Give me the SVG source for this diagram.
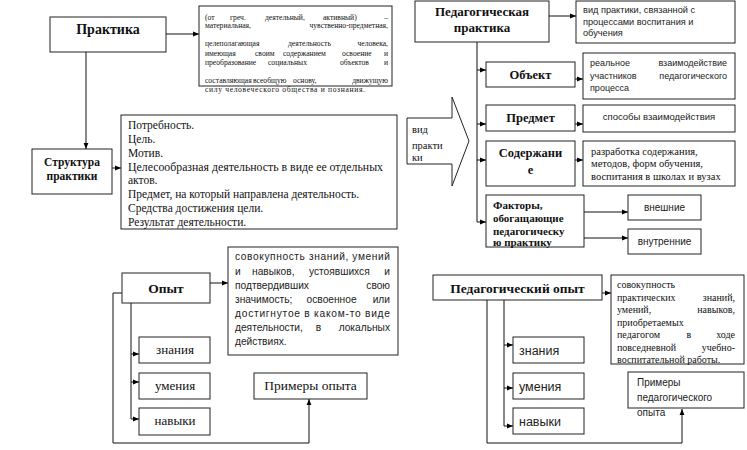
<svg xmlns="http://www.w3.org/2000/svg" width="747" height="450" viewBox="0 0 747 450">
<defs>
<marker id="ah" viewBox="0 0 10 10" refX="10" refY="5" markerWidth="6" markerHeight="6" orient="auto" markerUnits="userSpaceOnUse"><path d="M0,1 L10,5 L0,9 z" fill="#000"/></marker>
<style>
rect{fill:#fff;stroke:#222;stroke-width:1}
.c path{fill:none;stroke:#111;stroke-width:1}
.a{marker-end:url(#ah)}
.t{fill:#111}
.tb{font-weight:bold;fill:#111;text-anchor:middle}
.s{fill:#222}
.m{text-anchor:middle}
.e{text-anchor:end}
.mid{text-anchor:middle}
</style>
</defs>
<rect x="0" y="0" width="747" height="450" style="fill:#fff;stroke:none"/>

<g class="c">
<path class="a" d="M166,34 H199"/>
<path class="a" d="M86,52 V149"/>
<path class="a" d="M112,168 H121"/>
<path class="a" d="M210,283 H228"/>
<path d="M131,303 V419"/>
<path class="a" d="M131,354 H139"/>
<path class="a" d="M131,382 H139"/>
<path class="a" d="M131,419 H139"/>
<path class="a" d="M122,293 H113 V443 H309 V399"/>
<path class="a" d="M549,16 H576"/>
<path d="M477,42 V222"/>
<path class="a" d="M477,70 H486"/>
<path class="a" d="M477,124 H486"/>
<path class="a" d="M477,160 H486"/>
<path class="a" d="M477,222 H486"/>
<path class="a" d="M575,79 H583"/>
<path class="a" d="M575,124 H583"/>
<path class="a" d="M575,160 H583"/>
<path class="a" d="M584,212 H628"/>
<path class="a" d="M584,238 H628"/>
<path class="a" d="M602,293 H611"/>
<path class="a" d="M487,300 V443 H682 V409"/>
<path d="M504,300 V426"/>
<path class="a" d="M504,345 H513"/>
<path class="a" d="M504,388 H513"/>
<path class="a" d="M504,426 H513"/>
</g>

<g id="praktika" font-family="Liberation Serif, DejaVu Serif, serif">
<rect x="50" y="17" width="116" height="35"/>
<text class="tb" x="108" y="34" font-size="14">Практика</text>
</g>

<g id="praktika-def">
<rect x="199" y="6" width="193" height="80"/>
<g class="t" font-size="7.6" font-family="Liberation Serif, DejaVu Serif, serif">
<text y="19.5"><tspan x="205">(от</tspan> <tspan x="230">греч.</tspan> <tspan x="265">деятельный,</tspan> <tspan x="323">активный)</tspan> <tspan x="388" class="e">–</tspan></text>
<text y="28"><tspan x="205">материальная,</tspan> <tspan x="388" class="e">чувственно-предметная,</tspan></text>
<text y="46"><tspan x="205">целеполагающая</tspan> <tspan x="288">деятельность</tspan> <tspan x="388" class="e">человека,</tspan></text>
<text y="56"><tspan x="205">имеющая</tspan> <tspan x="255">своим</tspan> <tspan x="283">содержанием</tspan> <tspan x="342">освоение</tspan> <tspan x="388" class="e">и</tspan></text>
<text y="64.5"><tspan x="205">преобразование</tspan> <tspan x="268">социальных</tspan> <tspan x="340">объектов</tspan> <tspan x="388" class="e">и</tspan></text>
<text y="83"><tspan x="205">составляющая</tspan> <tspan x="253">всеобщую</tspan> <tspan x="293">основу,</tspan> <tspan x="388" class="e">движущую</tspan></text>
<text x="205" y="92" textLength="160" lengthAdjust="spacing">силу человеческого общества и познания.</text>
</g>
</g>

<g id="struktura" font-family="Liberation Serif, DejaVu Serif, serif">
<rect x="32" y="149" width="80" height="45"/>
<text class="tb" x="72" y="166" font-size="11.5">Структура</text>
<text class="tb" x="72" y="180" font-size="11.5">практики</text>
</g>

<g id="struktura-list">
<rect x="121" y="115" width="276" height="114"/>
<g class="t" font-size="11.5" font-family="Liberation Serif, DejaVu Serif, serif">
<text x="128" y="129">Потребность.</text>
<text x="128" y="143">Цель.</text>
<text x="128" y="157">Мотив.</text>
<text x="128" y="171" textLength="255" lengthAdjust="spacingAndGlyphs">Целесообразная деятельность в виде ее отдельных</text>
<text x="128" y="184">актов.</text>
<text x="128" y="198">Предмет, на который направлена деятельность.</text>
<text x="128" y="212">Средства достижения цели.</text>
<text x="128" y="226">Результат деятельности.</text>
</g>
</g>

<g id="opyt" font-family="Liberation Serif, DejaVu Serif, serif">
<rect x="122" y="273" width="88" height="30"/>
<text class="tb" x="166" y="292.5" font-size="13.5">Опыт</text>
</g>

<g id="opyt-def">
<rect x="228" y="247" width="170" height="108"/>
<g class="s" font-size="10.2" font-family="Liberation Sans, Arial, sans-serif">
<text x="235" y="260" textLength="155" lengthAdjust="spacing">совокупность знаний, умений</text>
<text y="275"><tspan x="235">и</tspan> <tspan x="252">навыков,</tspan> <tspan x="309">устоявшихся</tspan> <tspan x="390" class="e">и</tspan></text>
<text y="289"><tspan x="235">подтвердивших</tspan> <tspan x="390" class="e">свою</tspan></text>
<text y="303"><tspan x="235">значимость;</tspan> <tspan x="333" class="mid">освоенное</tspan> <tspan x="390" class="e">или</tspan></text>
<text x="235" y="317" textLength="155" lengthAdjust="spacing">достигнутое в каком-то виде</text>
<text y="331"><tspan x="235">деятельности,</tspan> <tspan x="320" class="mid">в</tspan> <tspan x="390" class="e">локальных</tspan></text>
<text x="235" y="345">действиях.</text>
</g>
</g>

<g id="opyt-znaniya" font-family="Liberation Serif, DejaVu Serif, serif">
<rect x="139" y="337" width="71" height="26"/>
<text class="t m" x="175" y="354" font-size="13">знания</text>
</g>
<g id="opyt-umeniya" font-family="Liberation Serif, DejaVu Serif, serif">
<rect x="139" y="373" width="71" height="26"/>
<text class="t m" x="175" y="390" font-size="13">умения</text>
</g>
<g id="opyt-navyki" font-family="Liberation Serif, DejaVu Serif, serif">
<rect x="139" y="408" width="71" height="27"/>
<text class="t m" x="175" y="425" font-size="13">навыки</text>
</g>

<g id="primery-opyta" font-family="Liberation Serif, DejaVu Serif, serif">
<rect x="254" y="373" width="113" height="26"/>
<text class="t m" x="310.5" y="390" font-size="13.5">Примеры опыта</text>
</g>

<g id="vid-praktiki" font-family="Liberation Serif, DejaVu Serif, serif">
<polygon points="407,118 452,118 452,97 469,141 452,186 452,164 407,164" fill="#fff" stroke="#222" stroke-width="1"/>
<g class="t" font-size="10.5">
<text x="412" y="133">вид</text>
<text x="412" y="148.5">практи</text>
<text x="412" y="160.5">ки</text>
</g>
</g>

<g id="ped-praktika" font-family="Liberation Serif, DejaVu Serif, serif">
<rect x="415" y="1" width="134" height="41"/>
<text class="tb" x="482" y="15.5" font-size="13">Педагогическая</text>
<text class="tb" x="482" y="31.5" font-size="13">практика</text>
</g>

<g id="ped-praktika-def" font-family="Liberation Sans, Arial, sans-serif">
<rect x="576" y="1" width="159" height="42"/>
<g class="s" font-size="9.2">
<text x="583" y="13">вид практики, связанной с</text>
<text x="583" y="25">процессами воспитания и</text>
<text x="583" y="36">обучения</text>
</g>
</g>

<g id="obekt" font-family="Liberation Serif, DejaVu Serif, serif">
<rect x="486" y="62" width="89" height="25"/>
<text class="tb" x="530.5" y="78.5" font-size="12.5">Объект</text>
</g>
<g id="obekt-def" font-family="Liberation Sans, Arial, sans-serif">
<rect x="583" y="53" width="152" height="46"/>
<g class="s" font-size="9">
<text y="66"><tspan x="590">реальное</tspan> <tspan x="727" class="e">взаимодействие</tspan></text>
<text y="79"><tspan x="590">участников</tspan> <tspan x="727" class="e">педагогического</tspan></text>
<text x="590" y="91">процесса</text>
</g>
</g>

<g id="predmet" font-family="Liberation Serif, DejaVu Serif, serif">
<rect x="486" y="105" width="89" height="26"/>
<text class="tb" x="530.5" y="121.5" font-size="12.5">Предмет</text>
</g>
<g id="predmet-def" font-family="Liberation Sans, Arial, sans-serif">
<rect x="583" y="105" width="152" height="27"/>
<text class="s m" x="659" y="120" font-size="9.5">способы взаимодействия</text>
</g>

<g id="soderzhanie" font-family="Liberation Serif, DejaVu Serif, serif">
<rect x="486" y="141" width="89" height="45"/>
<text class="tb" x="530.5" y="157" font-size="12.5">Содержани</text>
<text class="tb" x="530.5" y="174" font-size="12.5">е</text>
</g>
<g id="soderzhanie-def" font-family="Liberation Serif, DejaVu Serif, serif">
<rect x="583" y="141" width="152" height="45"/>
<g class="t" font-size="10.5">
<text x="591" y="155">разработка содержания,</text>
<text x="591" y="167">методов, форм обучения,</text>
<text x="591" y="180">воспитания в школах и вузах</text>
</g>
</g>

<g id="faktory" font-family="Liberation Serif, DejaVu Serif, serif">
<rect x="486" y="195" width="98" height="52"/>
<g class="t" font-size="11" font-weight="bold">
<text x="493" y="208.5">Факторы,</text>
<text x="493" y="221.5">обогащающие</text>
<text x="493" y="234.5">педагогическу</text>
<text x="493" y="246">ю практику</text>
</g>
</g>
<g id="vneshnie" font-family="Liberation Sans, Arial, sans-serif">
<rect x="628" y="195" width="73" height="25"/>
<text class="s m" x="664.5" y="210.5" font-size="10">внешние</text>
</g>
<g id="vnutrennie" font-family="Liberation Sans, Arial, sans-serif">
<rect x="628" y="229" width="73" height="25"/>
<text class="s m" x="664.5" y="245" font-size="10">внутренние</text>
</g>

<g id="ped-opyt" font-family="Liberation Serif, DejaVu Serif, serif">
<rect x="433" y="275" width="169" height="25"/>
<text class="tb" x="517.5" y="293" font-size="13.5">Педагогический опыт</text>
</g>
<g id="ped-opyt-def" font-family="Liberation Serif, DejaVu Serif, serif">
<rect x="611" y="275" width="133" height="89"/>
<g class="t" font-size="10">
<text x="617" y="288">совокупность</text>
<text y="300.5"><tspan x="617">практических</tspan> <tspan x="735" class="e">знаний,</tspan></text>
<text y="313"><tspan x="617">умений,</tspan> <tspan x="735" class="e">навыков,</tspan></text>
<text x="617" y="325.5">приобретаемых</text>
<text y="338"><tspan x="617">педагогом</tspan> <tspan x="690" class="mid">в</tspan> <tspan x="735" class="e">ходе</tspan></text>
<text y="350.5"><tspan x="617">повседневной</tspan> <tspan x="735" class="e">учебно-</tspan></text>
<text x="617" y="363">воспитательной работы.</text>
</g>
</g>

<g id="ped-znaniya" font-family="Liberation Sans, Arial, sans-serif">
<rect x="513" y="337" width="71" height="26"/>
<text class="s" x="519" y="354.5" font-size="12.5">знания</text>
</g>
<g id="ped-umeniya" font-family="Liberation Sans, Arial, sans-serif">
<rect x="513" y="373" width="71" height="26"/>
<text class="s" x="519" y="390.5" font-size="12.5">умения</text>
</g>
<g id="ped-navyki" font-family="Liberation Sans, Arial, sans-serif">
<rect x="513" y="408" width="71" height="26"/>
<text class="s" x="519" y="426" font-size="12.5">навыки</text>
</g>

<g id="primery-ped-opyta" font-family="Liberation Sans, Arial, sans-serif">
<rect x="628" y="372" width="116" height="36"/>
<g class="s" font-size="10">
<text x="637" y="386">Примеры</text>
<text x="637" y="401">педагогического</text>
<text x="637" y="416">опыта</text>
</g>
</g>
</svg>
